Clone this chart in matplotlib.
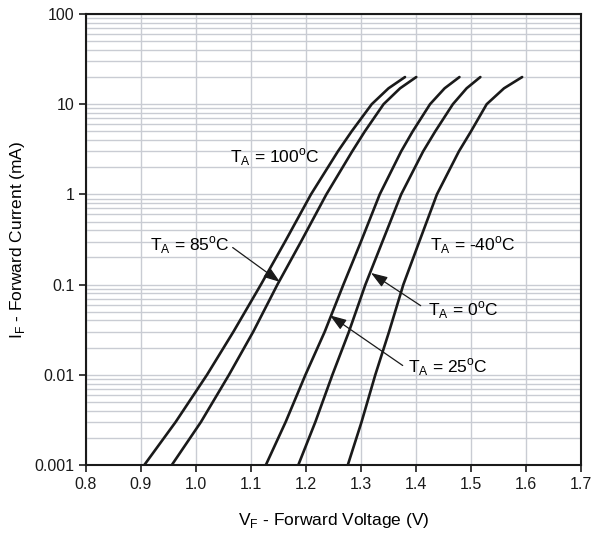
import numpy as np
import matplotlib.pyplot as plt

plt.rcParams['font.family'] = ['Liberation Sans', 'DejaVu Sans']

# forward current points (mA) and forward voltage (V) per ambient temperature
current = [0.001, 0.003, 0.01, 0.03, 0.1, 0.3, 1, 3, 5, 10, 15, 20]
vf_100 = [0.906, 0.963, 1.020, 1.068, 1.118, 1.162, 1.209, 1.258, 1.283, 1.3195, 1.350, 1.380]
vf_85 = [0.956, 1.009, 1.060, 1.104, 1.148, 1.191, 1.237, 1.284, 1.307, 1.341, 1.371, 1.4005]
vf_25 = [1.127, 1.163, 1.199, 1.234, 1.268, 1.300, 1.334, 1.373, 1.394, 1.4255, 1.452, 1.479]
vf_0 = [1.186, 1.217, 1.248, 1.278, 1.308, 1.339, 1.373, 1.413, 1.435, 1.467, 1.492, 1.517]
vf_m40 = [1.276, 1.301, 1.326, 1.351, 1.377, 1.406, 1.438, 1.478, 1.500, 1.5285, 1.560, 1.593]

x_ticks = [0.8, 0.9, 1.0, 1.1, 1.2, 1.3, 1.4, 1.5, 1.6, 1.7]
y_ticks = [0.001, 0.01, 0.1, 1, 10, 100]
y_labels = ['0.001', '0.01', '0.1', '1', '10', '100']

fig = plt.figure(figsize=(5.97, 5.39), dpi=100)
ax = fig.add_axes([86 / 597, 1 - 465 / 539, 495 / 597, 451 / 539])

for vf in [vf_100, vf_85, vf_25, vf_0, vf_m40]:
    ax.plot(vf, current, color='#1a1a1a', lw=1.9, solid_capstyle='round',
            solid_joinstyle='round')

ax.set_yscale('log')
ax.set_xlim(0.8, 1.7)
ax.set_ylim(0.001, 100)
ax.set_xticks(x_ticks)
ax.set_xticklabels([f'{t:.1f}' for t in x_ticks])
ax.set_yticks(y_ticks)
ax.set_yticklabels(y_labels)
ax.yaxis.set_minor_locator(plt.LogLocator(base=10, subs=np.arange(2, 10)))
ax.yaxis.set_minor_formatter(plt.NullFormatter())
ax.tick_params(axis='y', which='minor', length=0)
ax.tick_params(axis='both', which='major', direction='out', length=5,
               width=1.2, labelsize=11.5, colors='#1a1a1a')

grid_c = '#c9ccd3'
ax.grid(True, which='major', color=grid_c, lw=1.0)
ax.grid(True, which='minor', axis='y', color=grid_c, lw=1.0)
ax.set_axisbelow(True)

for side in ['left', 'bottom', 'top', 'right']:
    ax.spines[side].set_linewidth(1.5)
    ax.spines[side].set_color('#1a1a1a')

ax.set_xlabel('V$_\\mathregular{F}$ - Forward Voltage (V)', fontsize=12.5, labelpad=14)
ax.set_ylabel('I$_\\mathregular{F}$ - Forward Current (mA)', fontsize=12.5, labelpad=5)

fs = 12.5
ax.text(1.062, 2.6, 'T$_\\mathregular{A}$ = 100$^\\mathregular{o}$C', fontsize=fs, va='center')
ax.text(0.916, 0.273, 'T$_\\mathregular{A}$ = 85$^\\mathregular{o}$C', fontsize=fs, va='center')
ax.text(1.4255, 0.273, 'T$_\\mathregular{A}$ = -40$^\\mathregular{o}$C', fontsize=fs, va='center')
ax.text(1.422, 0.0518, 'T$_\\mathregular{A}$ = 0$^\\mathregular{o}$C', fontsize=fs, va='center')
ax.text(1.3855, 0.0122, 'T$_\\mathregular{A}$ = 25$^\\mathregular{o}$C', fontsize=fs, va='center')

arrow = dict(arrowstyle='-|>,head_length=1.0,head_width=0.35', color='#1a1a1a', lw=0.9,
             shrinkA=0, shrinkB=0)
ax.annotate('', xy=(1.1527, 0.107), xytext=(1.0667, 0.2576), arrowprops=arrow)
ax.annotate('', xy=(1.3182, 0.1346), xytext=(1.4085, 0.0584), arrowprops=arrow)
ax.annotate('', xy=(1.2436, 0.0456), xytext=(1.3758, 0.01268), arrowprops=arrow)

fig.savefig('out.png', dpi=100)
